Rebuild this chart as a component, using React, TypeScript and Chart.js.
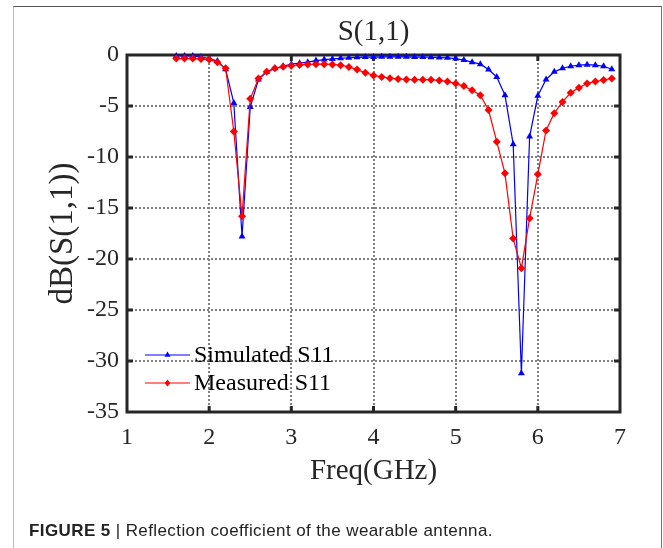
import React, { useEffect, useRef } from "react";
import { Chart, registerables } from "chart.js";

Chart.register(...registerables);

// ---- data ----
const freqGHz = [
  1.6, 1.7, 1.8, 1.9, 2.0, 2.1, 2.2, 2.3, 2.4, 2.5,
  2.6, 2.7, 2.8, 2.9, 3.0, 3.1, 3.2, 3.3, 3.4, 3.5,
  3.6, 3.7, 3.8, 3.9, 4.0, 4.1, 4.2, 4.3, 4.4, 4.5,
  4.6, 4.7, 4.8, 4.9, 5.0, 5.1, 5.2, 5.3, 5.4, 5.5,
  5.6, 5.7, 5.8, 5.9, 6.0, 6.1, 6.2, 6.3, 6.4, 6.5,
  6.6, 6.7, 6.8, 6.9,
];

const simulatedS11 = [
  -0.1, -0.1, -0.1, -0.2, -0.35, -0.6, -1.4, -4.7, -17.8, -5.1,
  -2.4, -1.65, -1.3, -1.1, -0.9, -0.8, -0.7, -0.55, -0.45, -0.38,
  -0.33, -0.27, -0.23, -0.2, -0.2, -0.18, -0.18, -0.18, -0.18, -0.2,
  -0.2, -0.22, -0.25, -0.28, -0.35, -0.5, -0.7, -0.9, -1.43, -2.15,
  -3.95, -8.75, -31.2, -8.0, -4.0, -2.4, -1.65, -1.3, -1.1, -1.0,
  -0.95, -1.0, -1.1, -1.4,
];

const measuredS11 = [
  -0.35, -0.35, -0.35, -0.4, -0.45, -0.7, -1.3, -7.5, -15.8, -4.3,
  -2.3, -1.65, -1.3, -1.15, -1.05, -0.97, -0.92, -0.9, -0.9, -0.92,
  -1.0, -1.17, -1.43, -1.73, -2.0, -2.15, -2.28, -2.35, -2.4, -2.42,
  -2.42, -2.42, -2.5, -2.6, -2.8, -3.05, -3.45, -3.95, -5.4, -8.5,
  -11.6, -18.0, -20.9, -16.0, -11.7, -7.4, -5.7, -4.6, -3.7, -3.2,
  -2.8, -2.6, -2.45, -2.3,
];

const seriesLabels = ["Simulated S11", "Measured S11"];
const xTickRange = [1, 7];
const yTickRange = [-35, 0];

const SERIF = '"Liberation Serif", "Times New Roman", serif';
const INK = "#262626";

function drawMarker(ctx: CanvasRenderingContext2D, style: string, x: number, y: number, r: number) {
  ctx.beginPath();
  if (style === "triangle") {
    ctx.moveTo(x, y - r);
    ctx.lineTo(x + r * 0.866, y + r / 2);
    ctx.lineTo(x - r * 0.866, y + r / 2);
  } else {
    ctx.moveTo(x, y - r);
    ctx.lineTo(x + r * 0.8, y);
    ctx.lineTo(x, y + r);
    ctx.lineTo(x - r * 0.8, y);
  }
  ctx.closePath();
  ctx.fill();
}

const framePlugin = {
  id: "matlabFrame",
  beforeDatasetsDraw(chart: any) {
    const { ctx, chartArea, scales } = chart;
    const { left, right, top, bottom } = chartArea;
    ctx.save();
    ctx.strokeStyle = INK;
    ctx.lineWidth = 3;
    ctx.strokeRect(left, top, right - left, bottom - top);
    const tl = 6;
    const seg = (x1: number, y1: number, x2: number, y2: number) => {
      ctx.beginPath();
      ctx.moveTo(x1, y1);
      ctx.lineTo(x2, y2);
      ctx.stroke();
    };
    scales.x.ticks.forEach((t: any) => {
      const px = scales.x.getPixelForValue(t.value);
      if (px <= left + 1 || px >= right - 1) return;
      seg(px, bottom, px, bottom - tl);
      seg(px, top, px, top + tl);
    });
    scales.y.ticks.forEach((t: any) => {
      const py = scales.y.getPixelForValue(t.value);
      if (py <= top + 1 || py >= bottom - 1) return;
      seg(left, py, left + tl, py);
      seg(right, py, right - tl, py);
    });
    ctx.restore();
  },
};

const legendPlugin = {
  id: "inlineLegend",
  afterDraw(chart: any) {
    const { ctx, chartArea } = chart;
    const x0 = chartArea.left + 18;
    const y0 = chartArea.bottom - 57;
    const rowH = 28;
    chart.data.datasets.forEach((ds: any, i: number) => {
      const y = y0 + i * rowH;
      ctx.save();
      ctx.strokeStyle = ds.borderColor;
      ctx.fillStyle = ds.pointBackgroundColor;
      ctx.lineWidth = 1.2;
      ctx.beginPath();
      ctx.moveTo(x0, y);
      ctx.lineTo(x0 + 45, y);
      ctx.stroke();
      drawMarker(ctx, ds.pointStyle, x0 + 22.5, y, 3.5);
      ctx.fillStyle = "#000";
      ctx.font = `24px ${SERIF}`;
      ctx.textBaseline = "middle";
      ctx.textAlign = "left";
      ctx.fillText(ds.label, x0 + 49, y + 1);
      ctx.restore();
    });
  },
};

export default function App() {
  const ref = useRef<HTMLCanvasElement>(null);

  useEffect(() => {
    const canvas = ref.current;
    if (!canvas) return;
    const chart = new Chart(canvas, {
      type: "line",
      data: {
        datasets: [
          {
            label: seriesLabels[0],
            data: freqGHz.map((f, i) => ({ x: f, y: simulatedS11[i] })),
            borderColor: "#0000ff",
            backgroundColor: "#0000ff",
            pointBackgroundColor: "#0000ff",
            pointBorderColor: "#0000ff",
            pointStyle: "triangle",
            pointRadius: 4,
            pointBorderWidth: 0,
            borderWidth: 1.2,
            tension: 0,
            clip: false as any,
            order: 2,
          },
          {
            label: seriesLabels[1],
            data: freqGHz.map((f, i) => ({ x: f, y: measuredS11[i] })),
            borderColor: "#ff0000",
            backgroundColor: "#ff0000",
            pointBackgroundColor: "#ff0000",
            pointBorderColor: "#ff0000",
            pointStyle: "rectRot",
            pointRadius: 4,
            pointBorderWidth: 0,
            borderWidth: 1.2,
            tension: 0,
            clip: false as any,
            order: 1,
          },
        ],
      },
      options: {
        responsive: false,
        animation: false,
        devicePixelRatio: 1,
        layout: { padding: { top: 0, left: 0, right: 43, bottom: 0 } },
        plugins: {
          legend: { display: false },
          tooltip: { enabled: false },
          title: {
            display: true,
            text: "S(1,1)",
            fullSize: false,
            color: INK,
            font: { family: SERIF, size: 29, weight: "normal", lineHeight: 1.2 },
            padding: { top: 15, bottom: 5.2 },
          },
        },
        scales: {
          x: {
            type: "linear",
            min: xTickRange[0],
            max: xTickRange[1],
            afterFit: (s: any) => {
              s.height = 136;
            },
            ticks: {
              stepSize: 1,
              color: INK,
              padding: 11,
              font: { family: SERIF, size: 24 },
            },
            grid: { color: "#808080", lineWidth: 2, drawTicks: false },
            border: { display: false, dash: [2, 2] },
            title: {
              display: true,
              text: "Freq(GHz)",
              color: INK,
              font: { family: SERIF, size: 29 },
              padding: { top: 0, bottom: 59.5 },
            },
          },
          y: {
            type: "linear",
            min: yTickRange[0],
            max: yTickRange[1],
            afterFit: (s: any) => {
              s.width = 127;
            },
            ticks: {
              stepSize: 5,
              color: INK,
              padding: 8,
              font: { family: SERIF, size: 24 },
            },
            grid: { color: "#808080", lineWidth: 2, drawTicks: false },
            border: { display: false, dash: [2, 2] },
            title: {
              display: true,
              text: "dB(S(1,1))",
              color: INK,
              font: { family: SERIF, size: 33 },
              padding: { top: 44, bottom: 0 },
            },
          },
        },
      },
      plugins: [framePlugin, legendPlugin],
    });
    return () => chart.destroy();
  }, []);

  return (
    <div
      style={{
        position: "absolute",
        left: 0,
        top: 0,
        width: 663,
        height: 548,
        overflow: "hidden",
        background: "#fff",
      }}
    >
      <div
        style={{
          position: "absolute",
          left: 13,
          top: 6,
          width: 647,
          height: 542,
          borderTop: "1px solid #555",
          borderLeft: "1px solid #bbb",
          borderRight: "1px solid #777",
        }}
      />
      <canvas
        ref={ref}
        width={663}
        height={548}
        style={{ position: "absolute", left: 0, top: 0, width: 663, height: 548 }}
      />
      <div
        style={{
          position: "absolute",
          left: 29,
          top: 521,
          font: '17px "Liberation Sans", Arial, sans-serif',
          letterSpacing: "0.4px",
          color: "#222",
          whiteSpace: "nowrap",
        }}
      >
        <b>FIGURE 5</b> | Reflection coefficient of the wearable antenna.
      </div>
    </div>
  );
}
